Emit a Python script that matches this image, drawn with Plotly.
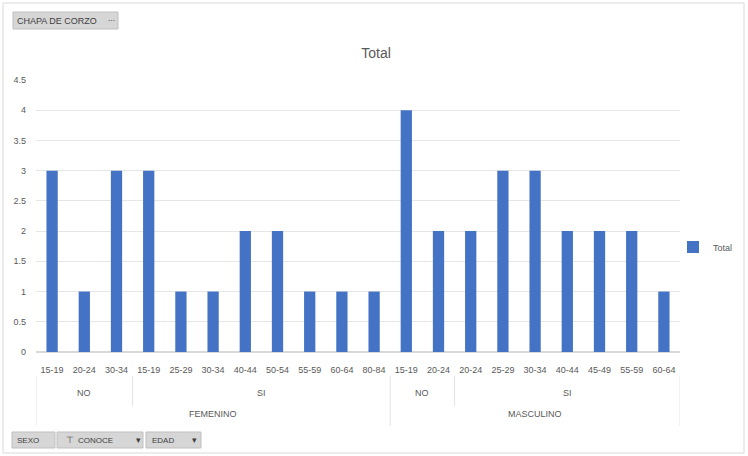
import plotly.graph_objects as go

# ---- data ----
sexo = ["FEMENINO"] * 11 + ["MASCULINO"] * 9
conoce = ["NO"] * 3 + ["SI"] * 8 + ["NO"] * 2 + ["SI"] * 7
edad = ["15-19", "20-24", "30-34",
        "15-19", "25-29", "30-34", "40-44", "50-54", "55-59", "60-64", "80-84",
        "15-19", "20-24",
        "20-24", "25-29", "30-34", "40-44", "45-49", "55-59", "60-64"]
total = [3, 1, 3,
         3, 1, 1, 2, 2, 1, 1, 1,
         4, 2,
         2, 3, 3, 2, 2, 2, 1]
y_ticks = [0, 0.5, 1, 1.5, 2, 2.5, 3, 3.5, 4, 4.5]
y_tick_text = ["0", "0.5", "1", "1.5", "2", "2.5", "3", "3.5", "4", "4.5"]

W, H = 748, 456
ML, MR, MT, MB = 36, 68, 80, 104
PW, PH = W - ML - MR, H - MT - MB
FONT = "Liberation Sans"
GREY = "#595959"

def px(x):
    return (x - ML) / PW

def py(y):
    return (H - MB - y) / PH

idx = list(range(len(total)))

fig = go.Figure()
fig.add_trace(go.Bar(x=idx, y=total, name="Total", width=0.35,
                     marker=dict(color="#4472C4", line=dict(width=0))))

def runs(keys):
    out = []
    start = 0
    for i in range(1, len(keys) + 1):
        if i == len(keys) or keys[i] != keys[start]:
            out.append((start, i - 1, keys[start]))
            start = i
    return out

annotations = []
shapes = []

# level 2 (CONOCE) and level 3 (SEXO) labels
lvl2 = runs(list(zip(sexo, conoce)))
lvl3 = runs(sexo)
for s, e, k in lvl2:
    annotations.append(dict(x=(s + e) / 2, xref="x", y=py(393), yref="paper",
                            text=k[1], showarrow=False, yanchor="middle",
                            font=dict(family=FONT, size=9, color=GREY)))
for s, e, k in lvl3:
    annotations.append(dict(x=(s + e) / 2, xref="x", y=py(414), yref="paper",
                            text=k, showarrow=False, yanchor="middle",
                            font=dict(family=FONT, size=9, color=GREY)))

# divider lines
sex_bounds = sorted(set([s - 0.5 for s, e, k in lvl3] + [e + 0.5 for s, e, k in lvl3]))
con_bounds = sorted(set([s - 0.5 for s, e, k in lvl2]) - set(sex_bounds))
for b in sex_bounds:
    shapes.append(dict(type="line", xref="x", yref="paper", x0=b, x1=b,
                       y0=py(376), y1=py(426), line=dict(color="#e3e3e3", width=1)))
for b in con_bounds:
    shapes.append(dict(type="line", xref="x", yref="paper", x0=b, x1=b,
                       y0=py(376), y1=py(406), line=dict(color="#e3e3e3", width=1)))

# outer border
shapes.append(dict(type="rect", xref="paper", yref="paper", x0=px(3), x1=px(744),
                   y0=py(3), y1=py(453), line=dict(color="#d9d9d9", width=1),
                   fillcolor="rgba(0,0,0,0)", layer="below"))

# field buttons
def button(x0, x1, y0, y1):
    shapes.append(dict(type="rect", xref="paper", yref="paper", x0=px(x0), x1=px(x1),
                       y0=py(y1), y1=py(y0), line=dict(color="#bfbfbf", width=1),
                       fillcolor="#d6d6d6"))

def label(x, y, text, size=8, anchor="left"):
    annotations.append(dict(x=px(x), xref="paper", y=py(y), yref="paper", text=text,
                            showarrow=False, xanchor=anchor, yanchor="middle",
                            font=dict(family=FONT, size=size, color="#404040")))

button(13, 118, 12, 29)
label(15, 20.5, "CHAPA DE CORZO", size=9)
label(106, 20.5, "⋯", size=7)

button(12, 55, 432, 448)
label(15, 440, "SEXO")
button(57, 143, 432, 448)
label(64, 440, "⊤", size=9)
label(76, 440, "CONOCE")
label(134, 440, "▾", size=9)
button(146, 201, 432, 448)
label(150, 440, "EDAD")
label(190, 440, "▾", size=9)

fig.update_layout(
    width=W, height=H,
    margin=dict(l=ML, r=MR, t=MT, b=MB, autoexpand=False),
    paper_bgcolor="white", plot_bgcolor="white",
    title=dict(text="Total", x=376 / W, xanchor="center",
               y=1 - 53 / H, yanchor="middle", yref="container",
               font=dict(family=FONT, size=14, color=GREY)),
    showlegend=True,
    legend=dict(x=px(673), y=py(247), xanchor="left", yanchor="middle",
                font=dict(family=FONT, size=9, color=GREY), itemwidth=30,
                bgcolor="rgba(0,0,0,0)"),
    xaxis=dict(range=[-0.5, len(total) - 0.5], tickmode="array", tickvals=idx,
               ticktext=edad, tickangle=0, showgrid=False, zeroline=False,
               showline=False, ticks="outside", ticklen=9,
               tickcolor="rgba(0,0,0,0)",
               tickfont=dict(family=FONT, size=9, color=GREY)),
    yaxis=dict(range=[0, 4.5], tickmode="array", tickvals=y_ticks,
               ticktext=y_tick_text, showgrid=True, gridcolor="#e6e6e6",
               gridwidth=1, zeroline=True, zerolinecolor="#d9d9d9",
               showline=False, ticks="", ticklabelstandoff=9,
               tickfont=dict(family=FONT, size=9, color=GREY)),
    annotations=annotations, shapes=shapes,
)

fig.write_html("out.html")
